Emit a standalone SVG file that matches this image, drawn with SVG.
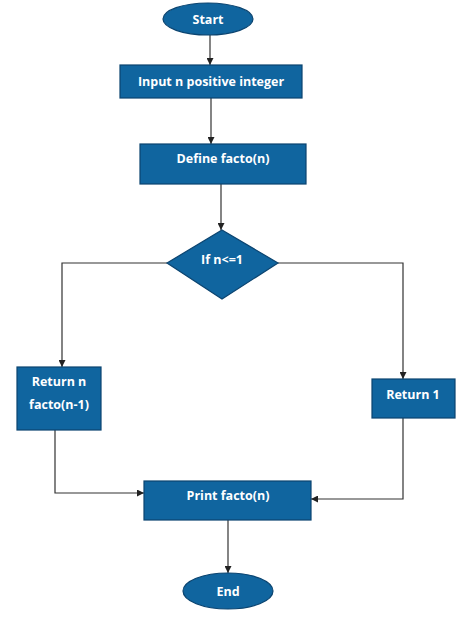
<svg xmlns="http://www.w3.org/2000/svg" width="474" height="622" viewBox="0 0 474 622">
<style>
.n{fill:#10659f;stroke:#0b4470;stroke-width:1.2}
.t{font-family:"Open Sans","Liberation Sans",sans-serif;font-weight:bold;font-size:12.5px;fill:#fff;text-anchor:middle}
.c{fill:none;stroke:#333;stroke-width:1.2}
</style>
<defs>
<marker id="a" viewBox="0 0 10 10" refX="10" refY="5" markerWidth="7" markerHeight="7" markerUnits="userSpaceOnUse" orient="auto"><path d="M0,0L10,5L0,10z" fill="#222"/></marker>
</defs>
<rect width="474" height="622" fill="#fff"/>
<g id="connectors">
<path class="c" d="M210,35V65" marker-end="url(#a)"/>
<path class="c" d="M211,98V144" marker-end="url(#a)"/>
<path class="c" d="M221,184V230" marker-end="url(#a)"/>
<path class="c" d="M167,263H62V367" marker-end="url(#a)"/>
<path class="c" d="M278,263H403V379" marker-end="url(#a)"/>
<path class="c" d="M55,430V493H144" marker-end="url(#a)"/>
<path class="c" d="M403,418V499H311" marker-end="url(#a)"/>
<path class="c" d="M228,520V573" marker-end="url(#a)"/>
</g>
<g id="start"><ellipse class="n" cx="208" cy="19" rx="45" ry="16"/><text class="t" x="208" y="24">Start</text></g>
<g id="input"><rect class="n" x="120" y="65" width="182" height="33"/><text class="t" x="211" y="86">Input n positive integer</text></g>
<g id="define"><rect class="n" x="140" y="144" width="166" height="40"/><text class="t" x="223" y="163">Define facto(n)</text></g>
<g id="decision"><polygon class="n" points="222,230 278,263 222,299 167,263"/><text class="t" x="222" y="264">If n&lt;=1</text></g>
<g id="returnn"><rect class="n" x="17" y="367" width="84" height="63"/><text class="t" x="59" y="386">Return n</text><text class="t" x="59" y="409">facto(n-1)</text></g>
<g id="return1"><rect class="n" x="372" y="379" width="83" height="39"/><text class="t" x="413" y="399">Return 1</text></g>
<g id="print"><rect class="n" x="144" y="481" width="167" height="39"/><text class="t" x="228" y="500">Print facto(n)</text></g>
<g id="end"><ellipse class="n" cx="228" cy="591" rx="45" ry="18"/><text class="t" x="228" y="596">End</text></g>
</svg>
